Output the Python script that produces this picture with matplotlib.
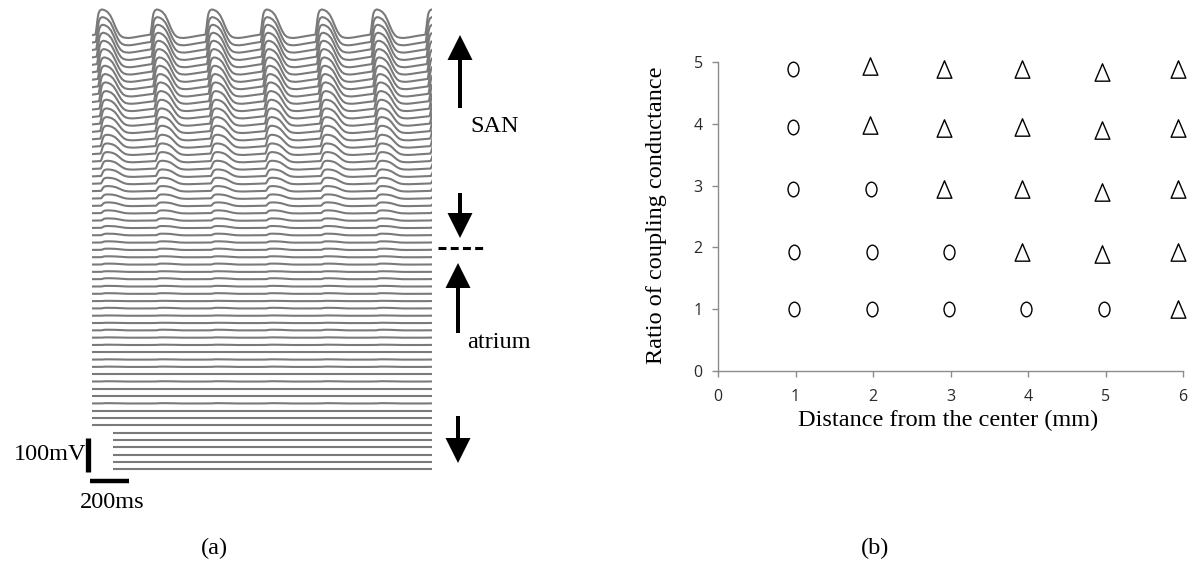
"""
Two-panel figure: stacked membrane potential traces (a) and a
coupling-ratio vs distance map (b).
"""

import numpy as np
import matplotlib
matplotlib.use('Agg')
import matplotlib.pyplot as plt
from matplotlib.path import Path
from matplotlib.patches import Rectangle
from matplotlib.transforms import Affine2D

# ---- panel (a) data -------------------------------------------------------
# one action potential cycle (normalised 0..1)
cycle_t_ms = [0, 5, 10, 15, 22, 32, 45, 60, 75, 88, 100, 112, 124, 136,
              150, 170, 195, 220, 245, 265]
cycle_v = [0.12, 0.35, 0.65, 0.85, 0.96, 1.00, 0.98, 0.92, 0.80, 0.62,
           0.42, 0.24, 0.11, 0.04, 0.01, 0.00, 0.02, 0.05, 0.08, 0.10]
cycle_length_ms = 282
first_upstroke_ms = 18
record_ms = 1744

# peak-to-trough amplitude of each trace, top (SAN centre) to bottom (atrium)
row_amp_mv = [84, 83, 82, 80, 78, 75, 72, 69, 66, 63,
              59, 55, 51, 47, 43, 38, 34, 30, 26, 22,
              19, 16, 13, 11, 9, 7, 6, 5, 4, 4,
              3, 3, 2, 3, 2, 2, 1, 2, 1, 1,
              2, 1, 1, 0, 1, 1, 0, 1, 0, 0,
              1, 0, 0, 0, 0, 0, 0, 0, 0, 0]
# activation delay of each trace
row_delay_ms = [0, 2, 4, 6, 8, 10, 12, 14, 16, 18,
                20, 22, 23, 24, 25, 26, 26, 27, 27, 28,
                28, 28, 29, 29, 29, 30, 30, 30, 30, 30] + [30] * 30
row_spacing_mv = 21.5
short_rows = 6          # bottom traces leave room for the scale bar
short_start_ms = 108

# ---- panel (b) data -------------------------------------------------------
circle_x = [0.97, 0.97, 0.97, 1.98, 0.98, 1.99, 2.98, 0.98, 1.99, 2.98, 3.97, 4.98]
circle_y = [4.88, 3.95, 2.95, 2.95, 1.93, 1.93, 1.93, 1.00, 1.00, 1.00, 1.00, 1.00]
triangle_x = [1.96, 2.92, 3.92, 4.95, 5.93,
              1.96, 2.92, 3.92, 4.95, 5.93,
              2.92, 3.92, 4.95, 5.93,
              3.92, 4.95, 5.93,
              5.93]
triangle_y = [4.94, 4.88, 4.89, 4.84, 4.88,
              3.98, 3.93, 3.95, 3.90, 3.93,
              2.95, 2.95, 2.90, 2.95,
              1.93, 1.90, 1.93,
              1.00]
x_ticks = [0, 1, 2, 3, 4, 5, 6]
y_ticks = [0, 1, 2, 3, 4, 5]

SERIF = 'Liberation Serif'
W, H = 1199, 565
fig = plt.figure(figsize=(W / 100, H / 100), dpi=100)

# ---------------------------------------------------------------- panel (a)
px_per_mv = 0.34
top_row_px = 38
ax_a = fig.add_axes([92 / W, 0, 340 / W, 1])
ax_a.set_xlim(0, record_ms)
ax_a.set_ylim(-(H - top_row_px) / px_per_mv, top_row_px / px_per_mv)
ax_a.axis('off')

n_rows = len(row_amp_mv)
n_cycles = int(record_ms / cycle_length_ms) + 2
tpl_t = np.array(cycle_t_ms, dtype=float)
tpl_v = np.array(cycle_v)
for i in range(n_rows):
    start = first_upstroke_ms + row_delay_ms[i]
    t = np.concatenate([tpl_t + start + k * cycle_length_ms
                        for k in range(-1, n_cycles)])
    v = np.tile(tpl_v, n_cycles + 1) * row_amp_mv[i] - i * row_spacing_mv
    line, = ax_a.plot(t, v, color='#7a7a7a', lw=1.5, solid_joinstyle='round')
    if i >= n_rows - short_rows:
        clip = Rectangle((short_start_ms, -5000), record_ms - short_start_ms,
                         10000, transform=ax_a.transData)
        line.set_clip_path(clip)

# scale bars: 100 mV and 200 ms
base = -(n_rows - 1) * row_spacing_mv
ax_a.plot([-18, -18], [base - 8, base + 92], color='black', lw=3.8,
          solid_capstyle='butt', clip_on=False)
ax_a.plot([-10, 190], [base - 35, base - 35], color='black', lw=3.2,
          solid_capstyle='butt', clip_on=False)

# ---------------------------------------------------------------- overlay
ov = fig.add_axes([0, 0, 1, 1], zorder=5)
ov.set_xlim(0, W)
ov.set_ylim(H, 0)
ov.axis('off')


def arrow(x, tail, tip):
    ov.arrow(x, tail, 0, tip - tail, width=4, head_width=25, head_length=25,
             length_includes_head=True, color='black', lw=0)


arrow(460, 108, 35)
arrow(460, 193, 238)
arrow(458, 333, 263)
arrow(458, 416, 463)
ov.plot([438, 483], [248, 248], color='black', lw=2.2,
        dashes=(2.6, 1.4), solid_capstyle='butt')

txt = dict(family=SERIF, fontsize=17.5, color='black')
ov.text(470, 127, 'SAN', ha='left', va='center', **txt)
ov.text(467, 343, 'atrium', ha='left', va='center', **txt)
ov.text(86, 455, '100mV', ha='right', va='center', **txt)
ov.text(80, 503, '200ms', ha='left', va='center', **txt)
ov.text(214, 548, '(a)', ha='center', va='center', **txt)
ov.text(875, 548, '(b)', ha='center', va='center', **txt)

# ---------------------------------------------------------------- panel (b)
ax_b = fig.add_axes([718 / W, (H - 371) / H, 465 / W, 309 / H])
ax_b.set_xlim(0, 6)
ax_b.set_ylim(0, 5)
for side in ['top', 'right']:
    ax_b.spines[side].set_visible(False)
for side in ['left', 'bottom']:
    ax_b.spines[side].set_color('#8c8c8c')
    ax_b.spines[side].set_linewidth(1.0)
ax_b.set_xticks(x_ticks)
ax_b.set_yticks(y_ticks)
ax_b.tick_params(length=4, width=1, color='#8c8c8c', labelcolor='#2a2a2a',
                 labelsize=11.5)
ax_b.tick_params(axis='x', pad=9)
ax_b.tick_params(axis='y', pad=7)
for lab in ax_b.get_xticklabels() + ax_b.get_yticklabels():
    lab.set_family('Open Sans')

ellipse = Path.unit_circle().transformed(Affine2D().scale(0.75, 1.0))
triangle = Path([(0, 1), (-0.85, -1), (0.85, -1), (0, 1)],
                [Path.MOVETO, Path.LINETO, Path.LINETO, Path.CLOSEPOLY])
ax_b.plot(circle_x, circle_y, ls='none', marker=ellipse, ms=10.5,
          mfc='none', mec='black', mew=1.0, clip_on=False)
ax_b.plot(triangle_x, triangle_y, ls='none', marker=triangle, ms=12.5,
          mfc='none', mec='black', mew=1.0, clip_on=False)

ax_b.set_xlabel('Distance from the center (mm)', **txt)
ax_b.set_ylabel('Ratio of coupling conductance', **txt)
ax_b.xaxis.set_label_coords(0.495, -0.125)
ax_b.yaxis.set_label_coords(-0.11, 0.505)

fig.savefig('out.png', dpi=100)
